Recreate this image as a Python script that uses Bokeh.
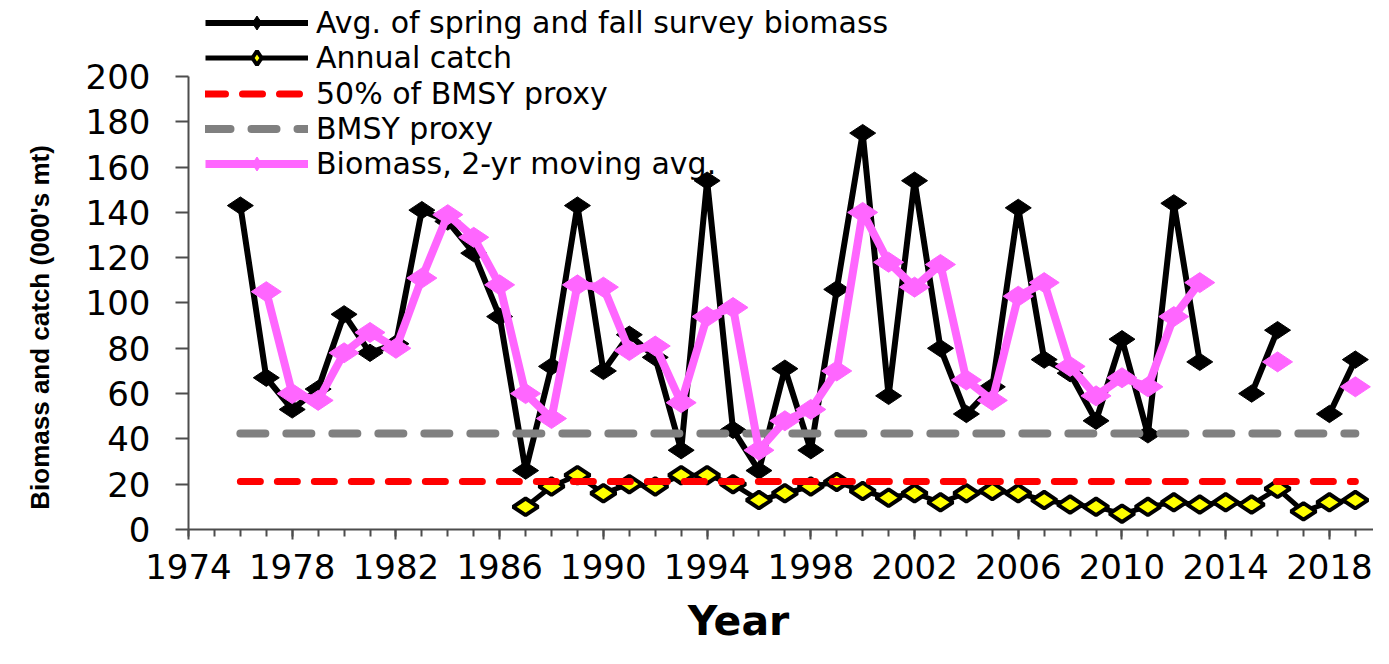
import math
import numpy as np
from bokeh.plotting import figure
from bokeh.models import Range1d, FixedTicker, Legend, LegendItem, Label
from bokeh.embed import file_html
from bokeh.resources import INLINE

nan = float("nan")

# ---------------- data ----------------
years = list(range(1976, 2020))
biomass = [143, 67, 53, 62, 95, 78, 82, 141, 136, 122, 94, 26, 72, 143, 70,
           86, 76, 35, 154, 44, 26, 71, 35, 106, 175, 59, 154, 80, 51, 63,
           142, 75, 69, 48, 84, 42, 144, 74, nan, 60, 88, nan, 51, 75]
moving_avg = [nan, 105, 60, 57, 78, 87, 80, 111, 139, 129, 108, 60, 49, 108, 107,
              79, 81, 56, 94, 98, 35, 48, 53, 70, 140, 118, 107, 117, 66, 57,
              103, 109, 72, 59, 67, 63, 94, 109, nan, nan, 74, nan, nan, 63]
catch_years = list(range(1987, 2020))
catch = [10, 19, 24, 16, 20, 19, 24, 24, 20, 13, 16, 19, 21, 17, 14, 16, 12,
         16, 17, 16, 13, 11, 10, 7, 10, 12, 11, 12, 11, 18, 8, 12, 13]
ref_years = [1976, 2019]
bmsy_proxy = [42.4, 42.4]
half_bmsy = [21.2, 21.2]

x_ticks = [1974, 1978, 1982, 1986, 1990, 1994, 1998, 2002, 2006, 2010, 2014, 2018]
x_minor = list(range(1974, 2021))
y_ticks = [0, 20, 40, 60, 80, 100, 120, 140, 160, 180, 200]

labels = ["Avg. of spring and fall survey biomass", "Annual catch",
          "50% of BMSY proxy", "BMSY proxy", "Biomass, 2-yr moving avg."]
x_title = "Year"
y_title = "Biomass and catch (000's mt)"

FONT = "DejaVu Sans"

p = figure(width=1373, height=648,
           x_range=Range1d(1966.75, 2019.7), y_range=Range1d(-52.54, 233.55),
           output_backend="svg", toolbar_location=None,
           min_border_left=0, min_border_right=0,
           min_border_top=0, min_border_bottom=0)
p.outline_line_color = None
p.xgrid.visible = False
p.ygrid.visible = False
p.background_fill_color = "white"

# avg biomass (black)
bx = np.array(years, dtype=float)
by = np.array(biomass, dtype=float)
r_bl = p.line(bx, by, line_color="black", line_width=6, line_join="round")
r_bm = p.scatter(bx, by, marker="diamond", angle=math.pi / 2, size=26,
                 fill_color="black", line_color="black", line_width=1)

# catch
cx = np.array(catch_years, dtype=float)
cy = np.array(catch, dtype=float)
r_cl = p.line(cx, cy, line_color="black", line_width=5, line_join="round")
r_cm = p.scatter(cx, cy, marker="diamond", angle=math.pi / 2, size=25,
                 fill_color="#FFFF00", line_color="black", line_width=4)

# reference lines
r_red = p.line(ref_years, half_bmsy, line_color="#FF0000", line_width=7,
               line_dash="20 17", line_cap="round")
r_grey = p.line(ref_years, bmsy_proxy, line_color="#808080", line_width=8,
                line_dash="25 21", line_cap="round")

# moving average (pink)
my = np.array(moving_avg, dtype=float)
r_pl = p.line(bx, my, line_color="#FF66FF", line_width=8, line_join="round")
r_pm = p.scatter(bx, my, marker="diamond", angle=math.pi / 2, size=30,
                 fill_color="#FF66FF", line_color="#FF66FF", line_width=1)

# axes (drawn inside the frame at fixed data locations)
for ax in (p.xaxis[0], p.yaxis[0]):
    ax.axis_line_color = "#4d4d4d"
    ax.axis_line_width = 2
    ax.major_tick_line_color = "#4d4d4d"
    ax.major_tick_line_width = 2
    ax.minor_tick_line_color = "#4d4d4d"
    ax.minor_tick_line_width = 2
    ax.major_tick_in = 0
    ax.minor_tick_in = 0
    ax.major_label_text_font = FONT
    ax.major_label_text_font_size = "34px"
    ax.major_label_text_color = "black"

p.xaxis.ticker = FixedTicker(ticks=x_ticks, minor_ticks=x_minor)
p.xaxis.fixed_location = 0
p.xaxis.bounds = (1974, 2019.7)
p.xaxis.major_tick_out = 10
p.xaxis.minor_tick_out = 7
p.xaxis.major_label_standoff = 15

p.yaxis.ticker = FixedTicker(ticks=y_ticks)
p.yaxis.fixed_location = 1974
p.yaxis.bounds = (0, 200)
p.yaxis.major_tick_out = 13
p.yaxis.minor_tick_out = 0
p.yaxis.major_label_standoff = 25

# axis titles
p.add_layout(Label(x=1995.21, y=-29.6, text=x_title,
                   text_align="center", text_baseline="top",
                   text_font=FONT, text_font_style="bold", text_font_size="41px",
                   text_color="black"))
p.add_layout(Label(x=1968.29, y=89.2, text=y_title, angle=math.pi / 2,
                   text_align="center", text_baseline="middle",
                   text_font="Liberation Sans", text_font_style="bold",
                   text_font_size="26px", text_color="black"))

# legend: one row per Legend so that rows sit at the reference spacing
items = [
    (labels[0], [r_bl, r_bm]),
    (labels[1], [r_cl, r_cm]),
    (labels[2], [r_red]),
    (labels[3], [r_grey]),
    (labels[4], [r_pl, r_pm]),
]
row_offsets = [608, 573, 537, 502, 467]
for (lab, rends), vy in zip(items, row_offsets):
    lg = Legend(items=[LegendItem(label=lab, renderers=rends)], location=(205, vy))
    lg.label_text_font = FONT
    lg.label_text_font_size = "30px"
    lg.label_text_color = "black"
    lg.glyph_width = 103
    lg.glyph_height = 35
    lg.label_height = 35
    lg.label_standoff = 8
    lg.spacing = 0
    lg.padding = 0
    lg.margin = 0
    lg.background_fill_alpha = 0
    lg.border_line_alpha = 0
    p.add_layout(lg)

open("out.html", "w").write(file_html(p, INLINE))
